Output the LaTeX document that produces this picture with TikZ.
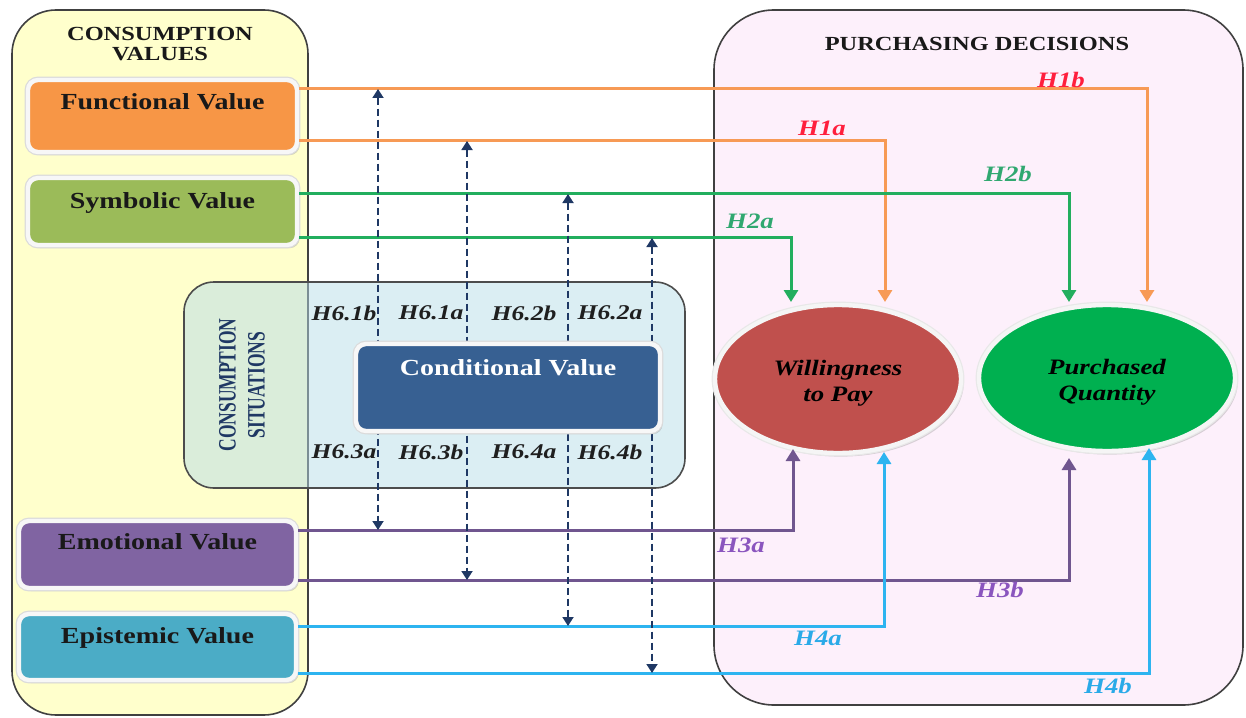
\documentclass[tikz,border=0pt]{standalone}
\usepackage{fontspec}
\setmainfont{Liberation Serif}[FakeStretch=1.22]
\newfontfamily\narrowrm{Liberation Serif}[FakeStretch=0.7]
\usetikzlibrary{arrows.meta,shadows,shapes.geometric}

\definecolor{cYellow}{HTML}{FFFFCC}
\definecolor{cPink}{HTML}{FDF0FB}
\definecolor{cSitu}{HTML}{B7DDE8}
\definecolor{cFunc}{HTML}{F79646}
\definecolor{cSymb}{HTML}{9BBB59}
\definecolor{cEmot}{HTML}{8064A2}
\definecolor{cEpis}{HTML}{4BACC6}
\definecolor{cCond}{HTML}{376092}
\definecolor{cWtp}{HTML}{C0504D}
\definecolor{cPq}{HTML}{00B050}
\definecolor{lOrange}{HTML}{F79A55}
\definecolor{lGreen}{HTML}{22AE5E}
\definecolor{lPurple}{HTML}{70568F}
\definecolor{lBlue}{HTML}{2DB4F0}
\definecolor{tRed}{HTML}{FF1F3D}
\definecolor{tGreen}{HTML}{30A870}
\definecolor{tPurple}{HTML}{8A55BE}
\definecolor{tBlue}{HTML}{2AAAE8}
\definecolor{navy}{HTML}{1F3864}

\begin{document}
\begin{tikzpicture}[x=0.5pt,y=-0.5pt,
  container/.style={draw=black!75, line width=0.8pt, rounded corners=22pt,
    inner sep=0pt},
  title/.style={font=\fontsize{10}{11}\selectfont\bfseries, text=black!90,
    align=center, inner sep=0pt},
  valbox/.style={rounded corners=5pt, inner sep=0pt,
    drop shadow={shadow xshift=1.3pt, shadow yshift=-1.6pt, opacity=0.35},
    preaction={draw=black!14, line width=3.4pt},
    draw=white!97!black, line width=2.2pt,
    font=\fontsize{11.5}{13}\selectfont\bfseries, text=black!90},
  ell/.style={ellipse, inner sep=0pt,
    drop shadow={shadow xshift=1.4pt, shadow yshift=-1.8pt, opacity=0.3},
    preaction={draw=black!9, line width=3.4pt},
    draw=white!96!black, line width=2.2pt},
  elltext/.style={align=center, inner sep=0pt,
    font=\fontsize{11}{12.8}\selectfont\bfseries\itshape, text=black},
  conn/.style={line width=1.5pt, -{Triangle[width=7pt,length=6pt]}},
  dline/.style={draw=navy, line width=0.9pt, dash pattern=on 3.5pt off 2pt,
    {Triangle[width=5.5pt,length=4.5pt]}-{Triangle[width=5.5pt,length=4.5pt]}},
  hlab/.style={font=\fontsize{11}{12}\selectfont\bfseries\itshape, inner sep=0pt},
  slab/.style={font=\fontsize{10.5}{12}\selectfont\bfseries\itshape,
    text=black!88, inner sep=0pt}
]
\useasboundingbox (0,0) rectangle (1246,717);

% --- the two large groups ---
\node[container, fill=cYellow, minimum width=148pt, minimum height=352.5pt]
  (cv) at (160,362.5) {};
\node[container, fill=cPink, rounded corners=30pt, minimum width=264.5pt,
  minimum height=347.5pt] (pd) at (978.5,357.5) {};
\node[title] (cvtitle) at (160,44) {CONSUMPTION\\[-1pt]VALUES};
\node[title] (pdtitle) at (977,44) {PURCHASING DECISIONS};

% --- consumption situations panel (translucent) ---
\node[draw=black!70, line width=0.8pt, fill=cSitu, fill opacity=0.5,
  rounded corners=15pt, minimum width=250.5pt, minimum height=103pt]
  (cs) at (434.5,385) {};
\node[rotate=90, font=\narrowrm\bfseries\fontsize{12.5}{14.5}\selectfont,
  text=navy, align=center, inner sep=0pt] (cstext) at (242,385)
  {CONSUMPTION\\SITUATIONS};

% --- value boxes ---
\node[valbox, fill=cFunc, minimum width=134.5pt, text height=14.75pt,
  text depth=21.25pt] (fv) at (162.5,116) {Functional Value};
\node[valbox, fill=cSymb, minimum width=134.5pt, text height=15.25pt,
  text depth=18.25pt] (sv) at (162.5,211.5) {Symbolic Value};
\node[valbox, fill=cEmot, minimum width=138.5pt, text height=14.25pt,
  text depth=19.25pt] (ev) at (157.5,554.5) {Emotional Value};
\node[valbox, fill=cEpis, minimum width=138.5pt, text height=14.75pt,
  text depth=18.25pt] (epv) at (157.5,647) {Epistemic Value};

% --- outcome ellipses ---
\node[ell, fill=cWtp, minimum width=123pt, minimum height=74pt]
  (wtp) at (838,379) {};
\node[elltext] (wtptext) at (838,383) {Willingness\\to Pay};
\node[ell, fill=cPq, minimum width=128pt, minimum height=73pt]
  (pq) at (1107,378) {};
\node[elltext] (pqtext) at (1107,382) {Purchased\\Quantity};

% --- arrow end points at the ellipses ---
\coordinate (e1b) at (1147,302);
\coordinate (e1a) at (885,302);
\coordinate (e2b) at (1069,302);
\coordinate (e2a) at (791,302);
\coordinate (e3a) at (793,449);
\coordinate (e4a) at (884,452);
\coordinate (e3b) at (1069,458);
\coordinate (e4b) at (1149,448);

% --- direct effects ---
\draw[conn, lOrange] ([yshift=13.5pt]fv.east) -| (e1b);
\draw[conn, lOrange] ([yshift=-12pt]fv.east) -| (e1a);
\draw[conn, lGreen] ([yshift=9.25pt]sv.east) -| (e2b);
\draw[conn, lGreen] ([yshift=-12.75pt]sv.east) -| (e2a);
\draw[conn, lPurple] ([yshift=12.25pt]ev.east) -| (e3a);
\draw[conn, lPurple] ([yshift=-12.75pt]ev.east) -| (e3b);
\draw[conn, lBlue] ([yshift=10.5pt]epv.east) -| (e4a);
\draw[conn, lBlue] ([yshift=-13pt]epv.east) -| (e4b);

\node[hlab, text=tRed] (h1b) at (1061,80) {H1b};
\node[hlab, text=tRed] (h1a) at (822,128) {H1a};
\node[hlab, text=tGreen] (h2b) at (1008,174) {H2b};
\node[hlab, text=tGreen] (h2a) at (750,221) {H2a};
\node[hlab, text=tPurple] (h3a) at (741,545) {H3a};
\node[hlab, text=tPurple] (h3b) at (1000,590) {H3b};
\node[hlab, text=tBlue] (h4a) at (818,638) {H4a};
\node[hlab, text=tBlue] (h4b) at (1108,686) {H4b};

% --- moderating links through the conditional value ---
\coordinate (m1t) at (378,89);
\coordinate (m1b) at (378,530);
\coordinate (m2t) at (467,141);
\coordinate (m2b) at (467,580);
\coordinate (m3t) at (568,194);
\coordinate (m3b) at (568,626);
\coordinate (m4t) at (652,238);
\coordinate (m4b) at (652,673);
\draw[dline] (m1t) -- (m1b);
\draw[dline] (m2t) -- (m2b);
\draw[dline] (m3t) -- (m3b);
\draw[dline] (m4t) -- (m4b);

\node[valbox, fill=cCond, minimum width=152pt, text height=15.5pt,
  text depth=28pt, text=white] (cond) at (508,387.5) {Conditional Value};

\node[slab] (h61b) at (344,313) {H6.1b};
\node[slab] (h61a) at (431,313) {H6.1a};
\node[slab] (h62b) at (524,313) {H6.2b};
\node[slab] (h62a) at (610,313) {H6.2a};
\node[slab] (h63a) at (344,452) {H6.3a};
\node[slab] (h63b) at (431,452) {H6.3b};
\node[slab] (h64a) at (524,452) {H6.4a};
\node[slab] (h64b) at (610,452) {H6.4b};
\end{tikzpicture}
\end{document}
